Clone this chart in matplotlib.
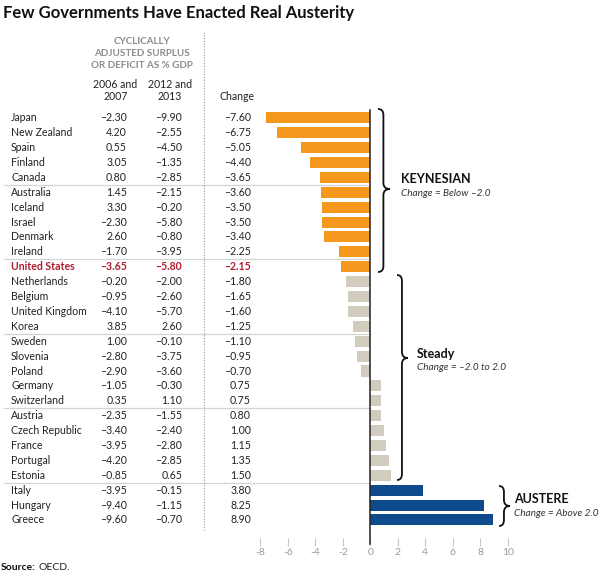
import matplotlib
matplotlib.use("Agg")
import matplotlib.pyplot as plt
import matplotlib.transforms as mtransforms
from matplotlib.path import Path
from matplotlib.patches import PathPatch

plt.rcParams['font.family'] = ['Lato', 'DejaVu Sans']
plt.rcParams['axes.unicode_minus'] = False

countries = ["Japan", "New Zealand", "Spain", "Finland", "Canada",
             "Australia", "Iceland", "Israel", "Denmark", "Ireland",
             "United States", "Netherlands", "Belgium", "United Kingdom", "Korea",
             "Sweden", "Slovenia", "Poland", "Germany", "Switzerland",
             "Austria", "Czech Republic", "France", "Portugal", "Estonia",
             "Italy", "Hungary", "Greece"]
bal_0607 = [-2.30, 4.20, 0.55, 3.05, 0.80,
            1.45, 3.30, -2.30, 2.60, -1.70,
            -3.65, -0.20, -0.95, -4.10, 3.85,
            1.00, -2.80, -2.90, -1.05, 0.35,
            -2.35, -3.40, -3.95, -4.20, -0.85,
            -3.95, -9.40, -9.60]
bal_1213 = [-9.90, -2.55, -4.50, -1.35, -2.85,
            -2.15, -0.20, -5.80, -0.80, -3.95,
            -5.80, -2.00, -2.60, -5.70, 2.60,
            -0.10, -3.75, -3.60, -0.30, 1.10,
            -1.55, -2.40, -2.80, -2.85, 0.65,
            -0.15, -1.15, -0.70]
change = [-7.60, -6.75, -5.05, -4.40, -3.65,
          -3.60, -3.50, -3.50, -3.40, -2.25,
          -2.15, -1.80, -1.65, -1.60, -1.25,
          -1.10, -0.95, -0.70, 0.75, 0.75,
          0.80, 1.00, 1.15, 1.35, 1.50,
          3.80, 8.25, 8.90]
highlight = "United States"
group_names = ["KEYNESIAN", "Steady", "AUSTERE"]
group_notes = ["Change = Below \u20132.0", "Change = \u20132.0 to 2.0", "Change = Above 2.0"]
x_ticks = [-8, -6, -4, -2, 0, 2, 4, 6, 8, 10]

ORANGE = "#f4991d"
TAN = "#d2ccbf"
BLUE = "#0f4a8c"
RED = "#b01c2e"
GRAY = "#8c8c8c"
W, H = 600, 575
FS = 7.6


def fmt(v):
    return f"{v:.2f}".replace("-", "\u2013")


def bar_color(v):
    if v < -2.0:
        return ORANGE
    if v > 2.0:
        return BLUE
    return TAN


fig = plt.figure(figsize=(6, 5.75), dpi=100)

# bar axes
ax = fig.add_axes([260.3 / W, 1 - 538 / H, 247.5 / W, 428 / H])
rows = list(range(len(countries)))
ax.barh(rows, change, height=0.74, color=[bar_color(v) for v in change])
ax.set_xlim(-8, 10)
ax.set_ylim(28.21, -0.52)
ax.set_xticks(x_ticks)
ax.set_yticks([])
ax.patch.set_alpha(0)
for s in ax.spines.values():
    s.set_visible(False)
ax.tick_params(axis="x", length=6, width=0.8, color="#c8c8c8",
               labelcolor="#9a9a9a", labelsize=7.5, pad=1.0)
ax.plot([0, 0], [-0.52, 28.6], color="#222222", lw=1.1, clip_on=False, zorder=5)

# overlay in pixel coordinates for the table furniture
ov = fig.add_axes([0, 0, 1, 1])
ov.set_xlim(0, W)
ov.set_ylim(H, 0)
ov.axis("off")
ov.set_zorder(5)

# table text (x in figure fraction, y in row units)
blend = mtransforms.blended_transform_factory(fig.transFigure, ax.transData)
for i, name in enumerate(countries):
    hl = name == highlight
    kw = dict(transform=blend, va="center", fontsize=FS,
              color=RED if hl else "#222222",
              fontweight="bold" if hl else "normal")
    ax.text(11 / W, i, name, ha="left", **kw)
    ax.text(127 / W, i, fmt(bal_0607[i]), ha="right", **kw)
    ax.text(182 / W, i, fmt(bal_1213[i]), ha="right", **kw)
    ax.text(251 / W, i, fmt(change[i]), ha="right", **kw)

# group separators
zero_x = 260.3 / W + (8 / 18) * 247.5 / W
for y in [4.5, 9.5, 14.5, 19.5, 24.5]:
    ax.plot([4 / W, zero_x], [y, y], color="#d4d4d4", lw=0.9,
            transform=blend, clip_on=False, zorder=0)

# dotted divider
ov.plot([203.5, 203.5], [32, 530], color="#9a9a9a", lw=0.8, ls=(0, (1, 1.5)))

# headers
for txt, y in [("CYCLICALLY", 42), ("ADJUSTED SURPLUS", 53.5), ("OR DEFICIT AS % GDP", 65)]:
    ov.text(142, y, txt, ha="center", va="center", fontsize=7.1,
            color=GRAY, fontweight="bold")
for cx, top, bot in [(115.5, "2006 and", "2007"), (170, "2012 and", "2013")]:
    ov.text(cx, 84, top, ha="center", va="center", fontsize=FS, color="#222222")
    ov.text(cx, 97, bot, ha="center", va="center", fontsize=FS, color="#222222")
ov.text(237, 97, "Change", ha="center", va="center", fontsize=FS, color="#222222")


def brace(x0, y0, y1, ym, w, r=6):
    xm = x0 + w * 0.45
    verts = [(x0, y0), (xm, y0), (xm, y0 + r),
             (xm, ym - r), (xm, ym), (x0 + w, ym),
             (xm, ym), (xm, ym + r),
             (xm, y1 - r), (xm, y1), (x0, y1)]
    codes = [Path.MOVETO, Path.CURVE3, Path.CURVE3,
             Path.LINETO, Path.CURVE3, Path.CURVE3,
             Path.CURVE3, Path.CURVE3,
             Path.LINETO, Path.CURVE3, Path.CURVE3]
    ov.add_patch(PathPatch(Path(verts, codes), fill=False, lw=1.3, ec="#111111"))


brace(378, 109, 272, 189, 12)
brace(397, 275, 480, 358, 11)
brace(499, 486, 526, 506, 11)

label_pos = [(401, 179), (417, 354), (514, 499)]
for (lx, ly), name, note in zip(label_pos, group_names, group_notes):
    ov.text(lx, ly, name, ha="left", va="center", fontsize=9,
            fontweight="bold", color="#111111")
    ov.text(lx, ly + 14, note, ha="left", va="center", fontsize=7.2,
            style="italic", color="#333333")

# title and source
ov.text(3, 13, "Few Governments Have Enacted Real Austerity", ha="left",
        va="center", fontsize=12, fontweight="bold", color="#111111")
src = ov.text(1, 568, "Source:", ha="left", va="center", fontsize=7.5,
              fontweight="bold", color="#111111")
fig.canvas.draw()
bb = src.get_window_extent()
ov.text(bb.x1 + 2.5, 568, "OECD.", ha="left", va="center", fontsize=7.5,
        color="#222222")

fig.savefig("out.png", dpi=100)
